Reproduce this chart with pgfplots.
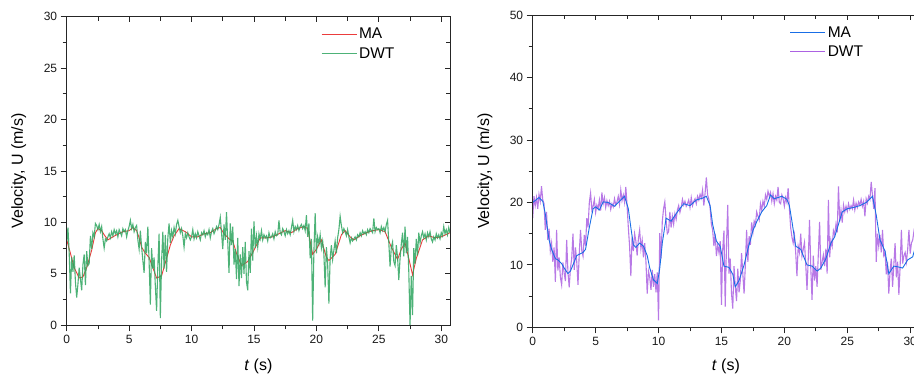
\documentclass[border=0pt]{standalone}
\usepackage{fontspec}
\setmainfont{Liberation Sans}
\usepackage{pgfplots}
\pgfplotsset{compat=1.18}
\definecolor{dwtgreen}{RGB}{46,165,95}
\definecolor{mared}{RGB}{235,60,60}
\definecolor{mablue}{RGB}{25,110,230}
\definecolor{dwtpurple}{RGB}{172,98,226}
\pgfplotsset{
  base/.style={
    scale only axis, xmin=0, xmax=30.7, ymin=0,
    axis line style={black!85, line width=0.9pt},
    every tick/.style={black!85, line width=0.8pt},
    xtick={0,5,...,30}, minor x tick num=1, minor y tick num=1,
    major tick length=6pt, minor tick length=4pt,
    ticklabel style={font=\fontsize{12}{14}\selectfont, text=black!90},
    /pgf/number format/assume math mode=true,
    tick pos=left, tick align=outside,
    legend image code/.code={\draw[#1] (0pt,0pt) -- (35pt,0pt);},
    legend style={draw=none, fill=none, font=\fontsize{15.5}{17}\selectfont, anchor=north west, row sep=3pt,
      nodes={inner sep=2pt}},
    legend cell align=left,
    xlabel={\textit{t} (s)},
    ylabel={Velocity, U (m/s)},
    label style={font=\fontsize{16}{18}\selectfont},
  },
  over/.style={
    scale only axis, xmin=0, xmax=30.7, ymin=0,
    axis line style={black!85, line width=0.9pt},
    every tick/.style={black!85, line width=0.8pt},
    xtick={0,5,...,30}, minor x tick num=1, minor y tick num=1,
    major tick length=5pt, minor tick length=4pt,
    tick pos=right, tick align=inside,
    xticklabels={}, yticklabels={},
  },
}
\begin{document}
\begin{tikzpicture}
% ---------------- left panel ----------------
\begin{axis}[base, at={(66.7pt,53.7pt)}, anchor=south west, width=383.3pt, height=308.6pt,
  ymax=30, ytick={0,5,...,30},
  xlabel style={at={(axis description cs:0.5,-0.134)}, anchor=center},
  ylabel style={at={(axis description cs:-0.125,0.5)}, anchor=center},
  legend style={at={(0.655,0.976)}}]
\addplot[mared, line width=0.9pt] coordinates {
(0,8.3)(0.3,7.0)(0.6,5.6)(1.0,4.6)(1.3,4.7)(1.6,5.6)(2.0,7.3)(2.3,9.0)(2.5,9.4)(2.8,9.2)(3.0,8.8)(3.3,8.3)(3.7,8.6)(4.0,8.8)(4.5,9.1)(5.0,9.2)(5.3,9.5)(5.6,9.2)(5.8,8.5)(6.0,7.6)(6.3,7.0)(6.6,6.6)(6.9,5.6)(7.2,4.6)(7.6,4.8)(8.0,6.5)(8.3,7.8)(8.6,8.7)(9.0,9.4)(9.5,9.1)(10.0,8.6)(10.5,8.6)(11.0,8.9)(11.5,9.0)(12.0,9.4)(12.3,9.5)(12.6,8.9)(13.0,8.4)(13.3,8.2)(13.6,7.0)(14.0,5.8)(14.5,6.2)(15.0,7.3)(15.5,8.5)(16.0,8.5)(16.5,8.6)(17.0,8.9)(17.5,9.2)(18.0,9.0)(18.5,9.4)(19.0,9.6)(19.3,9.4)(19.7,6.9)(20.0,7.4)(20.4,8.3)(20.8,6.6)(21.0,6.3)(21.5,6.9)(22.0,8.8)(22.3,9.2)(22.7,8.6)(23.0,8.3)(23.5,8.7)(24.0,9.0)(24.5,9.2)(25.0,9.3)(25.5,9.1)(26.0,7.6)(26.5,6.4)(26.8,7.4)(27.1,8.0)(27.4,6.5)(27.7,4.9)(28.0,6.5)(28.5,8.3)(29.0,8.7)(29.5,8.5)(30.0,8.6)(30.7,9.0)
};
\addlegendentry{MA}
\addplot[dwtgreen, line width=1.1pt, opacity=0.85] coordinates {
(0.0,8.1)(0.1,9.5)(0.2,7.0)(0.3,3.1)(0.4,6.6)(0.5,5.2)(0.6,6.8)(0.7,4.2)(0.8,2.7)(0.9,4.0)
(1.0,5.6)(1.1,4.5)(1.2,3.4)(1.3,5.9)(1.4,6.9)(1.5,3.9)(1.6,7.2)(1.7,5.8)(1.8,6.0)(1.9,8.7)
(2.0,7.4)(2.1,9.0)(2.2,8.6)(2.3,9.9)(2.4,9.7)(2.5,9.3)(2.6,9.8)(2.7,9.1)(2.8,9.6)(2.9,8.4)
(3.0,7.5)(3.1,8.4)(3.2,8.2)(3.3,8.6)(3.4,8.9)(3.5,8.5)(3.6,9.1)(3.7,8.7)(3.8,9.3)(3.9,8.9)
(4.0,9.2)(4.1,8.6)(4.2,9.3)(4.3,9.0)(4.4,8.7)(4.5,9.4)(4.6,9.1)(4.7,9.3)(4.8,8.6)(4.9,9.2)
(5.0,9.6)(5.1,10.2)(5.2,9.4)(5.3,9.8)(5.4,9.1)(5.5,9.5)(5.6,9.7)(5.7,8.3)(5.8,7.4)(5.9,9.2)
(6.0,7.6)(6.1,6.3)(6.2,5.1)(6.3,8.1)(6.4,7.0)(6.5,9.6)(6.6,6.2)(6.7,2.0)(6.8,7.5)(6.9,5.5)
(7.0,6.6)(7.1,3.8)(7.2,1.4)(7.3,5.8)(7.4,8.9)(7.5,0.7)(7.6,6.2)(7.7,9.1)(7.8,5.5)(7.9,8.8)
(8.0,5.2)(8.1,8.5)(8.2,9.9)(8.3,8.0)(8.4,9.2)(8.5,8.6)(8.6,9.5)(8.7,8.9)(8.8,9.8)(8.9,10.2)
(9.0,9.6)(9.1,9.0)(9.2,9.4)(9.3,8.7)(9.4,7.6)(9.5,8.9)(9.6,8.5)(9.7,9.0)(9.8,8.6)(9.9,8.3)
(10.0,8.6)(10.1,9.3)(10.2,8.4)(10.3,8.9)(10.4,8.5)(10.5,9.1)(10.6,8.7)(10.7,8.3)(10.8,9.0)(10.9,8.8)
(11.0,9.2)(11.1,8.6)(11.2,9.0)(11.3,8.8)(11.4,9.3)(11.5,8.5)(11.6,9.1)(11.7,9.4)(11.8,8.9)(11.9,9.2)
(12.0,9.6)(12.1,9.3)(12.2,9.8)(12.3,10.5)(12.4,9.0)(12.5,7.4)(12.6,9.8)(12.7,8.3)(12.8,11.0)(12.9,8.1)
(13.0,5.1)(13.1,9.9)(13.2,7.8)(13.3,9.6)(13.4,5.9)(13.5,7.4)(13.6,4.5)(13.7,8.5)(13.8,3.8)(13.9,6.9)
(14.0,4.6)(14.1,7.6)(14.2,5.0)(14.3,8.1)(14.4,4.2)(14.5,3.4)(14.6,7.2)(14.7,5.1)(14.8,9.4)(14.9,6.3)
(15.0,10.1)(15.1,7.5)(15.2,8.7)(15.3,7.6)(15.4,8.9)(15.5,8.4)(15.6,9.2)(15.7,8.3)(15.8,8.8)(15.9,8.5)
(16.0,8.7)(16.1,8.2)(16.2,9.0)(16.3,8.5)(16.4,8.6)(16.5,8.9)(16.6,8.4)(16.7,9.1)(16.8,8.7)(16.9,8.8)
(17.0,10.2)(17.1,9.0)(17.2,8.8)(17.3,9.4)(17.4,9.1)(17.5,8.7)(17.6,9.3)(17.7,8.9)(17.8,9.2)(17.9,8.8)
(18.0,9.5)(18.1,10.2)(18.2,9.1)(18.3,9.6)(18.4,9.3)(18.5,9.7)(18.6,9.2)(18.7,9.6)(18.8,9.8)(18.9,9.4)
(19.0,9.7)(19.1,9.2)(19.2,10.7)(19.3,8.6)(19.4,9.9)(19.5,6.5)(19.6,8.4)(19.7,0.45)(19.8,7.2)(19.9,10.9)
(20.0,7.0)(20.1,8.6)(20.2,7.9)(20.3,8.8)(20.4,7.5)(20.5,8.2)(20.6,6.9)(20.7,3.7)(20.8,7.6)(20.9,6.0)
(21.0,2.1)(21.1,6.5)(21.2,7.8)(21.3,6.4)(21.4,7.3)(21.5,8.2)(21.6,7.0)(21.7,8.5)(21.8,9.3)(21.9,10.6)
(22.0,9.7)(22.1,9.0)(22.2,9.4)(22.3,9.1)(22.4,8.7)(22.5,9.3)(22.6,8.6)(22.7,8.0)(22.8,8.5)(22.9,8.2)
(23.0,8.4)(23.1,8.6)(23.2,8.3)(23.3,8.8)(23.4,8.6)(23.5,9.0)(23.6,8.7)(23.7,9.2)(23.8,8.9)(23.9,9.1)
(24.0,8.8)(24.1,9.3)(24.2,9.0)(24.3,9.4)(24.4,9.2)(24.5,9.0)(24.6,10.4)(24.7,9.1)(24.8,9.5)(24.9,9.3)
(25.0,9.4)(25.1,9.0)(25.2,9.6)(25.3,9.2)(25.4,9.5)(25.5,9.1)(25.6,9.8)(25.7,10.2)(25.8,8.0)(25.9,5.7)
(26.0,7.6)(26.1,8.1)(26.2,6.2)(26.3,5.8)(26.4,7.8)(26.5,6.6)(26.6,4.4)(26.7,6.5)(26.8,7.9)(26.9,9.0)
(27.0,6.7)(27.1,9.6)(27.2,7.0)(27.3,8.6)(27.4,5.2)(27.5,0.0)(27.6,4.8)(27.7,1.0)(27.8,7.5)(27.9,6.0)
(28.0,8.4)(28.1,6.8)(28.2,9.0)(28.3,8.0)(28.4,8.7)(28.5,9.1)(28.6,8.5)(28.7,8.9)(28.8,8.3)(28.9,9.0)
(29.0,8.6)(29.1,9.1)(29.2,8.4)(29.3,8.1)(29.4,8.6)(29.5,8.3)(29.6,8.9)(29.7,8.5)(29.8,8.8)(29.9,8.4)
(30.0,9.0)(30.1,8.7)(30.2,9.6)(30.3,8.9)(30.4,9.3)(30.5,8.8)(30.6,9.5)(30.7,9.0)
};
\addlegendentry{DWT}
\end{axis}
\begin{axis}[over, at={(66.7pt,53.7pt)}, anchor=south west, width=383.3pt, height=308.6pt,
  ymax=30, ytick={0,5,...,30}]
\end{axis}
% ---------------- right panel ----------------
\begin{axis}[base, at={(532.7pt,51.7pt)}, anchor=south west, width=386.3pt, height=312pt,
  ymax=50, ytick={0,10,...,50},
  xlabel style={at={(axis description cs:0.5,-0.126)}, anchor=center},
  ylabel style={at={(axis description cs:-0.1235,0.5)}, anchor=center},
  legend style={at={(0.657,0.978)}}]
\addplot[dwtpurple, line width=1.1pt, opacity=0.85, forget plot] coordinates {
(0.0,17.5)(0.1,21.0)(0.2,19.5)(0.3,20.8)(0.4,19.0)(0.5,21.3)(0.6,20.2)(0.7,22.6)(0.8,20.4)(0.9,19.8)
(1.0,15.6)(1.1,18.5)(1.2,14.0)(1.3,15.8)(1.4,12.2)(1.5,13.5)(1.6,10.5)(1.7,12.8)(1.8,7.3)(1.9,15.6)
(2.0,9.1)(2.1,11.2)(2.2,8.0)(2.3,6.8)(2.4,10.4)(2.5,8.7)(2.6,7.4)(2.7,14.0)(2.8,8.9)(2.9,6.4)
(3.0,9.5)(3.1,11.0)(3.2,15.0)(3.3,9.2)(3.4,12.8)(3.5,10.5)(3.6,6.8)(3.7,11.8)(3.8,15.6)(3.9,12.3)
(4.0,11.4)(4.1,14.8)(4.2,13.0)(4.3,17.5)(4.4,16.0)(4.5,20.0)(4.6,21.5)(4.7,18.8)(4.8,19.4)(4.9,20.5)
(5.0,18.4)(5.1,19.6)(5.2,19.0)(5.3,20.4)(5.4,18.7)(5.5,21.6)(5.6,19.8)(5.7,20.8)(5.8,19.2)(5.9,20.3)
(6.0,19.5)(6.1,20.2)(6.2,18.9)(6.3,19.8)(6.4,19.3)(6.5,20.6)(6.6,19.6)(6.7,20.1)(6.8,21.0)(6.9,19.7)
(7.0,22.0)(7.1,20.3)(7.2,21.2)(7.3,20.0)(7.4,22.5)(7.5,19.5)(7.6,16.0)(7.7,13.0)(7.8,8.2)(7.9,14.5)
(8.0,12.2)(8.1,15.0)(8.2,13.8)(8.3,11.5)(8.4,14.2)(8.5,15.6)(8.6,12.6)(8.7,14.0)(8.8,11.2)(8.9,13.5)
(9.0,10.5)(9.1,5.4)(9.2,9.0)(9.3,8.0)(9.4,6.0)(9.5,9.2)(9.6,6.5)(9.7,8.5)(9.8,5.6)(9.9,8.8)
(10.0,1.1)(10.1,15.1)(10.2,11.0)(10.3,17.0)(10.4,19.0)(10.5,20.1)(10.6,17.2)(10.7,15.0)(10.8,15.3)(10.9,18.5)
(11.0,16.0)(11.1,17.8)(11.2,16.5)(11.3,18.2)(11.4,17.3)(11.5,18.8)(11.6,19.5)(11.7,18.4)(11.8,19.2)(11.9,20.5)
(12.0,19.6)(12.1,20.2)(12.2,19.4)(12.3,19.8)(12.4,20.4)(12.5,19.2)(12.6,20.8)(12.7,19.5)(12.8,20.2)(12.9,20.6)
(13.0,19.8)(13.1,21.0)(13.2,20.4)(13.3,21.3)(13.4,20.7)(13.5,22.0)(13.6,19.5)(13.7,21.5)(13.8,24.0)(13.9,21.2)
(14.0,20.5)(14.1,19.1)(14.2,16.5)(14.3,15.6)(14.4,13.0)(14.5,15.0)(14.6,11.4)(14.7,13.2)(14.8,12.0)(14.9,13.8)
(15.0,3.6)(15.1,12.5)(15.2,15.5)(15.3,3.3)(15.4,13.2)(15.5,19.6)(15.6,8.6)(15.7,11.0)(15.8,5.4)(15.9,3.0)
(16.0,9.8)(16.1,6.5)(16.2,4.2)(16.3,9.4)(16.4,5.6)(16.5,7.5)(16.6,11.9)(16.7,8.5)(16.8,5.4)(16.9,10.0)
(17.0,15.6)(17.1,10.5)(17.2,14.6)(17.3,13.2)(17.4,16.8)(17.5,15.2)(17.6,17.0)(17.7,16.4)(17.8,18.5)(17.9,17.8)
(18.0,17.2)(18.1,19.8)(18.2,18.8)(18.3,20.2)(18.4,19.4)(18.5,21.2)(18.6,20.5)(18.7,21.8)(18.8,21.0)(18.9,21.6)
(19.0,20.2)(19.1,21.4)(19.2,19.8)(19.3,21.0)(19.4,20.4)(19.5,22.5)(19.6,20.0)(19.7,19.8)(19.8,21.2)(19.9,20.6)
(20.0,19.4)(20.1,20.8)(20.2,20.0)(20.3,22.3)(20.4,19.0)(20.5,16.0)(20.6,14.5)(20.7,13.5)(20.8,14.8)(20.9,12.0)
(21.0,8.2)(21.1,13.0)(21.2,12.0)(21.3,15.0)(21.4,11.4)(21.5,12.5)(21.6,13.6)(21.7,10.0)(21.8,6.0)(21.9,11.0)
(22.0,17.2)(22.1,9.5)(22.2,4.4)(22.3,11.5)(22.4,7.5)(22.5,9.8)(22.6,6.5)(22.7,11.8)(22.8,16.9)(22.9,9.2)
(23.0,10.5)(23.1,11.6)(23.2,9.8)(23.3,12.6)(23.4,8.6)(23.5,20.4)(23.6,11.2)(23.7,14.0)(23.8,13.0)(23.9,15.5)
(24.0,14.8)(24.1,16.5)(24.2,15.2)(24.3,22.6)(24.4,17.0)(24.5,18.8)(24.6,16.8)(24.7,19.6)(24.8,18.5)(24.9,19.4)
(25.0,18.6)(25.1,19.8)(25.2,18.9)(25.3,19.5)(25.4,19.0)(25.5,20.4)(25.6,18.8)(25.7,19.9)(25.8,19.2)(25.9,20.1)
(26.0,19.6)(26.1,20.5)(26.2,19.4)(26.3,20.2)(26.4,17.8)(26.5,20.6)(26.6,19.9)(26.7,21.0)(26.8,20.5)(26.9,23.3)
(27.0,21.2)(27.1,19.0)(27.2,22.3)(27.3,10.5)(27.4,15.0)(27.5,13.0)(27.6,14.8)(27.7,12.0)(27.8,15.6)(27.9,11.5)
(28.0,12.0)(28.1,8.5)(28.2,10.5)(28.3,5.4)(28.4,9.0)(28.5,11.0)(28.6,6.5)(28.7,10.0)(28.8,13.5)(28.9,8.0)
(29.0,10.5)(29.1,5.2)(29.2,9.8)(29.3,15.6)(29.4,10.2)(29.5,11.5)(29.6,12.0)(29.7,10.5)(29.8,12.5)(29.9,15.6)
(30.0,11.8)(30.1,13.5)(30.2,14.0)(30.3,15.4)(30.4,14.5)(30.5,15.8)(30.6,16.0)(30.7,16.2)
};
\addplot[mablue, line width=0.9pt] coordinates {
(0,20.0)(0.5,20.8)(0.8,20.2)(1.0,18.2)(1.3,14.0)(1.5,12.5)(1.8,11.0)(2.0,10.8)(2.3,10.2)(2.5,9.5)(2.8,8.6)(3.0,9.0)(3.3,10.5)(3.5,11.5)(4.0,12.0)(4.2,12.5)(4.5,16.0)(4.8,19.0)(5.0,19.3)(5.3,18.8)(5.6,20.1)(6.0,20.0)(6.5,19.4)(7.0,20.4)(7.3,21.0)(7.6,19.0)(7.8,16.0)(8.0,13.2)(8.2,12.8)(8.5,13.5)(8.8,13.0)(9.1,11.5)(9.3,9.5)(9.6,7.6)(9.9,7.0)(10.1,9.5)(10.3,13.5)(10.6,17.5)(11.0,17.0)(11.5,18.5)(12.0,19.8)(12.5,19.5)(13.0,20.4)(13.5,20.7)(13.8,21.0)(14.1,19.5)(14.3,16.5)(14.6,13.8)(14.9,13.0)(15.2,9.8)(15.6,9.6)(15.9,8.5)(16.1,6.5)(16.4,7.5)(16.8,10.0)(17.1,12.5)(17.5,15.5)(17.8,16.9)(18.2,18.5)(18.6,19.5)(18.9,21.2)(19.2,20.6)(19.5,20.8)(19.8,21.0)(20.2,20.5)(20.4,19.5)(20.6,17.0)(20.9,13.0)(21.3,12.5)(21.8,10.0)(22.2,9.8)(22.6,9.0)(22.9,9.5)(23.3,11.0)(23.7,13.5)(24.0,14.5)(24.3,16.5)(24.6,18.5)(25.0,19.0)(25.5,19.2)(26.0,19.5)(26.5,20.0)(26.8,20.6)(27.0,21.0)(27.3,18.0)(27.6,14.0)(28.0,12.2)(28.3,8.6)(28.7,9.8)(29.0,9.7)(29.4,9.5)(29.8,10.8)(30.2,11.3)(30.5,13.5)(30.7,15.0)
};
\addlegendentry{MA}
\addlegendimage{dwtpurple, line width=1.1pt}
\addlegendentry{DWT}
\end{axis}
\begin{axis}[over, at={(532.7pt,51.7pt)}, anchor=south west, width=386.3pt, height=312pt,
  ymax=50, ytick={0,10,...,50}]
\end{axis}
\pgfresetboundingbox
\path[use as bounding box] (0pt,0pt) rectangle (914pt,379pt);
\end{tikzpicture}
\end{document}
